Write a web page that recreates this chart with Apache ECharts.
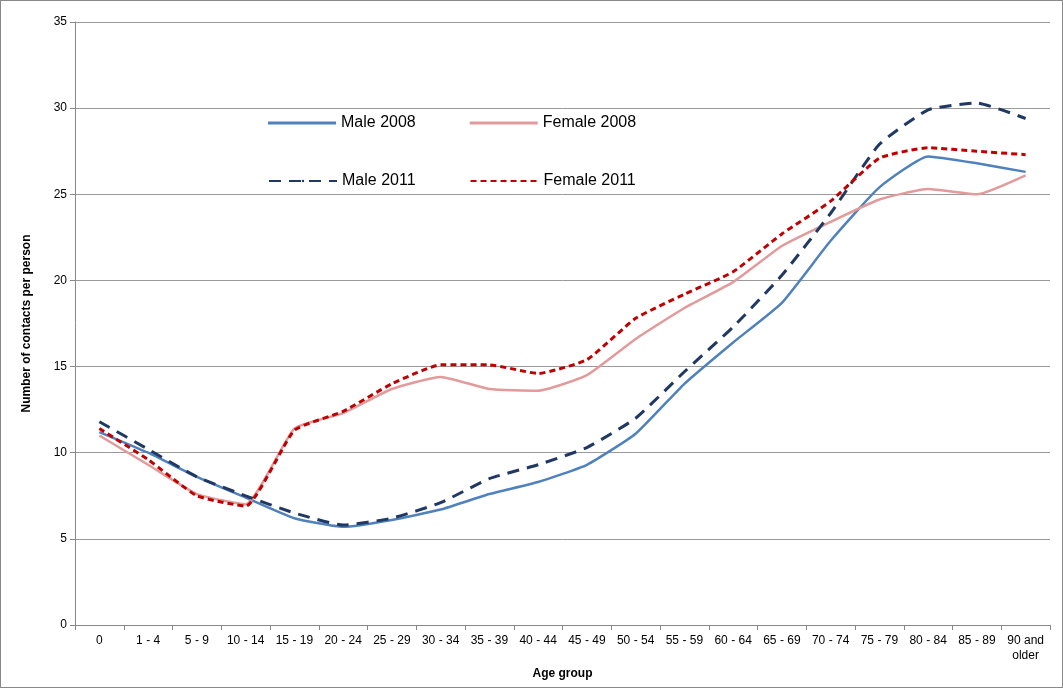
<!DOCTYPE html>
<html>
<head>
  <meta charset="utf-8">
  <script src="https://cdn.jsdelivr.net/npm/echarts@6/dist/echarts.min.js"></script>
  <style>
    html, body { margin: 0; background: #fff; }
    #main { width: 1063px; height: 688px; box-sizing: border-box; border: 1px solid #888; }
  </style>
</head>
<body>
  <div id="main"></div>
  <script>
    var categories = ['0', '1 - 4', '5 - 9', '10 - 14', '15 - 19', '20 - 24', '25 - 29', '30 - 34', '35 - 39',
      '40 - 44', '45 - 49', '50 - 54', '55 - 59', '60 - 64', '65 - 69', '70 - 74', '75 - 79', '80 - 84',
      '85 - 89', '90 and\nolder'];
    var male2008 = [11.2, 10.0, 8.6, 7.4, 6.2, 5.7, 6.1, 6.7, 7.6, 8.3, 9.3, 11.1, 14.0, 16.4, 18.7, 22.3, 25.4, 27.2, 26.8, 26.3];
    var female2008 = [11.0, 9.3, 7.6, 7.0, 11.4, 12.3, 13.7, 14.4, 13.7, 13.6, 14.5, 16.6, 18.4, 19.9, 22.0, 23.4, 24.7, 25.3, 25.0, 26.1];
    var male2011 = [11.8, 10.2, 8.6, 7.5, 6.5, 5.8, 6.2, 7.1, 8.5, 9.3, 10.3, 12.0, 14.7, 17.3, 20.3, 23.9, 27.9, 29.9, 30.3, 29.4];
    var female2011 = [11.4, 9.6, 7.5, 6.9, 11.3, 12.4, 14.0, 15.1, 15.1, 14.6, 15.4, 17.8, 19.2, 20.5, 22.7, 24.6, 27.1, 27.7, 27.5, 27.3];

    var chart = echarts.init(document.getElementById('main'));
    var font = 'Liberation Sans, Arial, sans-serif';
    function line(name, data, color, type) {
      return {
        name: name, type: 'line', data: data, symbol: 'none', smooth: 0.15,
        lineStyle: { color: color, width: type === 'solid' ? 2.5 : 3, type: type },
        itemStyle: { color: color }
      };
    }
    var legendStyle = { fontFamily: font, fontSize: 16, color: '#000' };
    chart.setOption({
      animation: false,
      textStyle: { fontFamily: font },
      grid: { left: 74, right: 12, top: 21, bottom: 62 },
      legend: [
        { data: ['Male 2008', 'Female 2008'], left: 262, top: 109, itemGap: 54, itemWidth: 68, itemHeight: 3, textStyle: legendStyle, icon: 'rect' },
        { data: ['Male 2011', 'Female 2011'], left: 262, top: 167, itemGap: 54, itemWidth: 68, itemHeight: 3, textStyle: legendStyle }
      ],
      xAxis: {
        type: 'category', data: categories, boundaryGap: true,
        name: 'Age group', nameLocation: 'middle', nameGap: 42,
        nameTextStyle: { fontWeight: 'bold', fontSize: 12, color: '#000' },
        axisLine: { lineStyle: { color: '#888' } },
        axisTick: { show: true, interval: 0, alignWithLabel: false, lineStyle: { color: '#888' } },
        axisLabel: { interval: 0, color: '#000', fontSize: 12, lineHeight: 15 }
      },
      yAxis: {
        type: 'value', min: 0, max: 35, interval: 5,
        name: 'Number of contacts per person', nameLocation: 'middle', nameGap: 42,
        nameTextStyle: { fontWeight: 'bold', fontSize: 12, color: '#000' },
        axisLine: { show: true, lineStyle: { color: '#888' } },
        axisTick: { show: true, lineStyle: { color: '#888' } },
        axisLabel: { color: '#000', fontSize: 12 },
        splitLine: { lineStyle: { color: '#999' } }
      },
      series: [
        line('Male 2008', male2008, '#4F81BD', 'solid'),
        line('Female 2008', female2008, '#E29A9A', 'solid'),
        line('Male 2011', male2011, '#1F3864', [12, 8]),
        line('Female 2011', female2011, '#C00000', [6, 4])
      ]
    });
  </script>
</body>
</html>
